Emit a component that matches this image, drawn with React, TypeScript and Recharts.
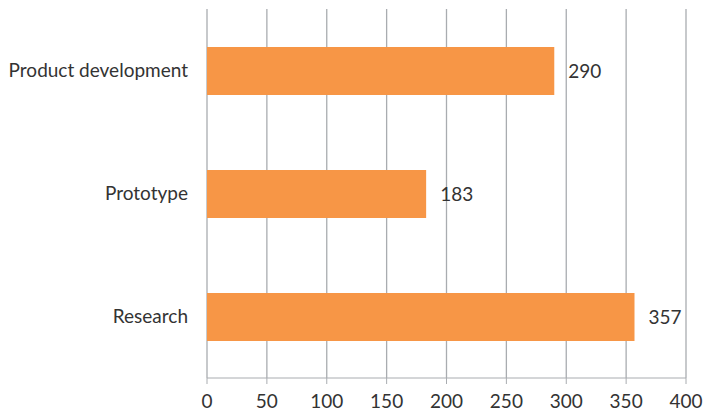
import { BarChart, Bar, XAxis, YAxis, CartesianGrid, LabelList } from 'recharts';

const categories = ['Product development', 'Prototype', 'Research'];
const values = [290, 183, 357];
const xTicks = [0, 50, 100, 150, 200, 250, 300, 350, 400];
const boundaryTicks = [0, 1, 2, 3];

const data = categories.map((name, i) => ({ name, value: values[i] }));

const FONT = 'Lato, "Open Sans", sans-serif';
const GRID = '#a9acb0';
const TEXT = '#333333';

export default function App() {
  return (
    <div style={{ position: 'absolute', left: 0, top: 0, width: 706, height: 420, background: '#fff' }}>
      <BarChart
        width={706}
        height={420}
        data={data}
        layout="vertical"
        margin={{ top: 9, right: 20, left: 0, bottom: 12 }}
      >
        <CartesianGrid horizontal={false} stroke={GRID} strokeWidth={1.3} yAxisId="cat" />
        <XAxis
          type="number"
          domain={[0, 400]}
          ticks={xTicks}
          interval={0}
          height={30}
          tickSize={6}
          tickMargin={11}
          stroke={GRID}
          tick={{ fill: TEXT, fontSize: 19, fontFamily: FONT }}
        />
        <YAxis
          yAxisId="bounds"
          type="number"
          domain={[0, 3]}
          ticks={boundaryTicks}
          width={0}
          tickSize={6}
          tickFormatter={() => ''}
          stroke={GRID}
        />
        <YAxis
          yAxisId="cat"
          type="category"
          dataKey="name"
          width={207}
          axisLine={false}
          tickLine={false}
          tickSize={0}
          tickMargin={19}
          tick={{ fill: TEXT, fontSize: 19, fontFamily: FONT }}
        />
        <Bar dataKey="value" yAxisId="cat" fill="#f79646" barSize={48} isAnimationActive={false}>
          <LabelList
            dataKey="value"
            position="right"
            offset={14}
            style={{ fill: TEXT, fontSize: 19, fontFamily: FONT }}
          />
        </Bar>
      </BarChart>
    </div>
  );
}
